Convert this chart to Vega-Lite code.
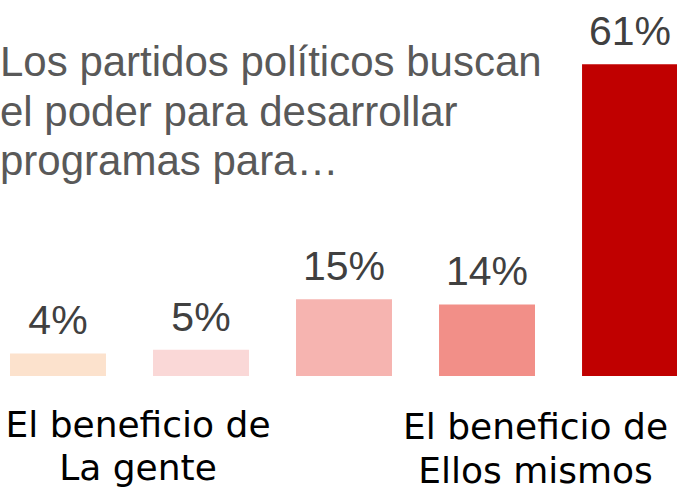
{
  "$schema": "https://vega.github.io/schema/vega-lite/v6.json",
  "width": 678,
  "height": 499,
  "autosize": {"type": "none"},
  "padding": 0,
  "background": "white",
  "title": {
    "text": ["Los partidos políticos buscan", "el poder para desarrollar", "programas para…"],
    "anchor": "start",
    "frame": "group",
    "orient": "top",
    "font": "Liberation Sans",
    "fontSize": 42,
    "fontWeight": "normal",
    "color": "#595959",
    "lineHeight": 49.5,
    "baseline": "alphabetic",
    "offset": 0,
    "dy": 217
  },
  "config": {"view": {"stroke": null}},
  "data": {
    "values": [
      {"cat": "La gente", "value": 4.4, "label": "4%", "color": "#FCE2CD", "note": "El beneficio de\nLa gente"},
      {"cat": "b", "value": 5.1, "label": "5%", "color": "#FAD8D7", "note": ""},
      {"cat": "c", "value": 15, "label": "15%", "color": "#F6B4B0", "note": ""},
      {"cat": "d", "value": 14, "label": "14%", "color": "#F28F88", "note": ""},
      {"cat": "Ellos mismos", "value": 61, "label": "61%", "color": "#C00000", "note": "El beneficio de\nEllos mismos"}
    ]
  },
  "encoding": {
    "x": {
      "field": "cat",
      "type": "nominal",
      "sort": null,
      "axis": null,
      "scale": {"paddingInner": 0.329, "paddingOuter": 0.035, "align": 1}
    }
  },
  "layer": [
    {
      "mark": {"type": "bar"},
      "encoding": {
        "y": {"field": "value", "type": "quantitative", "axis": null, "scale": {"domain": [-24.1, 73.6], "nice": false, "zero": false}},
        "color": {"field": "color", "type": "nominal", "scale": null, "legend": null}
      }
    },
    {
      "mark": {"type": "text", "font": "Liberation Sans", "fontSize": 41, "color": "#404040", "baseline": "alphabetic", "align": "center", "dy": -19},
      "encoding": {
        "y": {"field": "value", "type": "quantitative"},
        "text": {"field": "label", "type": "nominal"}
      }
    },
    {
      "transform": [{"filter": "datum.cat === 'La gente'"}],
      "mark": {"type": "text", "font": "DejaVu Sans", "fontSize": 36, "color": "#000000", "baseline": "alphabetic", "align": "center", "lineBreak": "\n", "lineHeight": 43, "dx": 80, "dy": 61},
      "encoding": {
        "y": {"datum": 0, "type": "quantitative"},
        "text": {"field": "note", "type": "nominal"}
      }
    },
    {
      "transform": [{"filter": "datum.cat === 'Ellos mismos'"}],
      "mark": {"type": "text", "font": "DejaVu Sans", "fontSize": 36, "color": "#000000", "baseline": "alphabetic", "align": "center", "lineBreak": "\n", "lineHeight": 44, "dx": -94.5, "dy": 63},
      "encoding": {
        "y": {"datum": 0, "type": "quantitative"},
        "text": {"field": "note", "type": "nominal"}
      }
    }
  ]
}
